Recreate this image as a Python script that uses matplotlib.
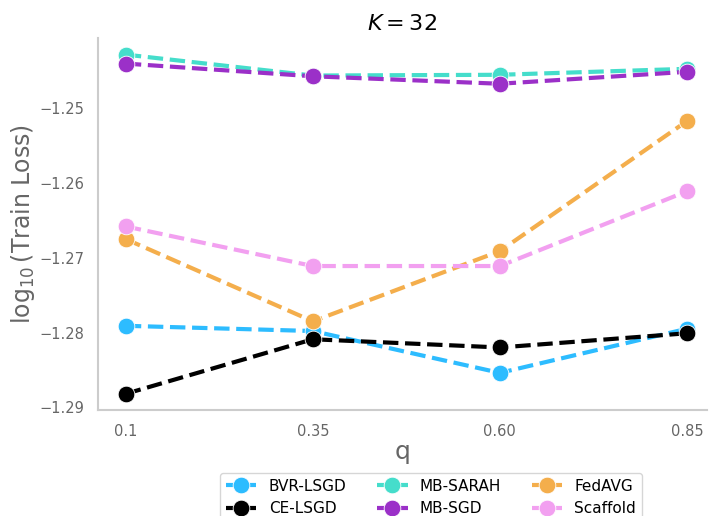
import numpy as np
import matplotlib.pyplot as plt

# sampling probability q and log10 train loss for each method (K = 32)
q_labels = ['0.1', '0.35', '0.60', '0.85']
q_vals = [0.1, 0.35, 0.60, 0.85]

bvr_lsgd = [-1.2791, -1.2798, -1.2854, -1.2795]
ce_lsgd = [-1.2882, -1.2809, -1.2820, -1.2801]
mb_sarah = [-1.2428, -1.2456, -1.2455, -1.2447]
mb_sgd = [-1.2440, -1.2457, -1.2467, -1.2451]
fedavg = [-1.2675, -1.2785, -1.2691, -1.2517]
scaffold = [-1.2658, -1.2711, -1.2711, -1.2611]

methods = ['BVR-LSGD', 'CE-LSGD', 'MB-SARAH', 'MB-SGD', 'FedAVG', 'Scaffold']
series = [bvr_lsgd, ce_lsgd, mb_sarah, mb_sgd, fedavg, scaffold]
colors = ['#2DBCFF', '#000000', '#45DDCB', '#9B30C8', '#F4AE4C', '#F2A0F0']

fig = plt.figure(figsize=(7.09, 5.16), dpi=100)
ax = fig.add_axes([0.138, 0.205, 0.859, 0.721])

for name, vals, c in zip(methods, series, colors):
    ax.plot(q_vals, vals, linestyle='--', lw=3, color=c, marker='o',
            markersize=12, markeredgecolor='white', markeredgewidth=0.6,
            label=name)

ax.set_xlim(0.0626, 0.8767)
ax.set_ylim(-1.2904, -1.2406)
ax.set_xticks(q_vals)
ax.set_xticklabels(q_labels)
ax.set_yticks([-1.25, -1.26, -1.27, -1.28, -1.29])
ax.tick_params(length=0, labelsize=10.5, labelcolor='#666666', pad=10)

for s in ['top', 'right']:
    ax.spines[s].set_visible(False)
for s in ['left', 'bottom']:
    ax.spines[s].set_color('#cccccc')
    ax.spines[s].set_linewidth(1.5)

ax.set_title('$K=32$', fontsize=16, pad=6)
ax.set_xlabel('q', fontsize=18, color='#666666', labelpad=1)
ax.set_ylabel('$\\log_{10}$(Train Loss)', fontsize=17, color='#666666')
ax.yaxis.set_label_coords(-0.10, 0.5)

fig.legend(loc='upper center', bbox_to_anchor=(0.608, 0.084), ncol=3,
           fontsize=11, frameon=True, edgecolor='#cccccc',
           columnspacing=2.0, handlelength=2.0, borderaxespad=0)

fig.savefig('out.png', dpi=100)
